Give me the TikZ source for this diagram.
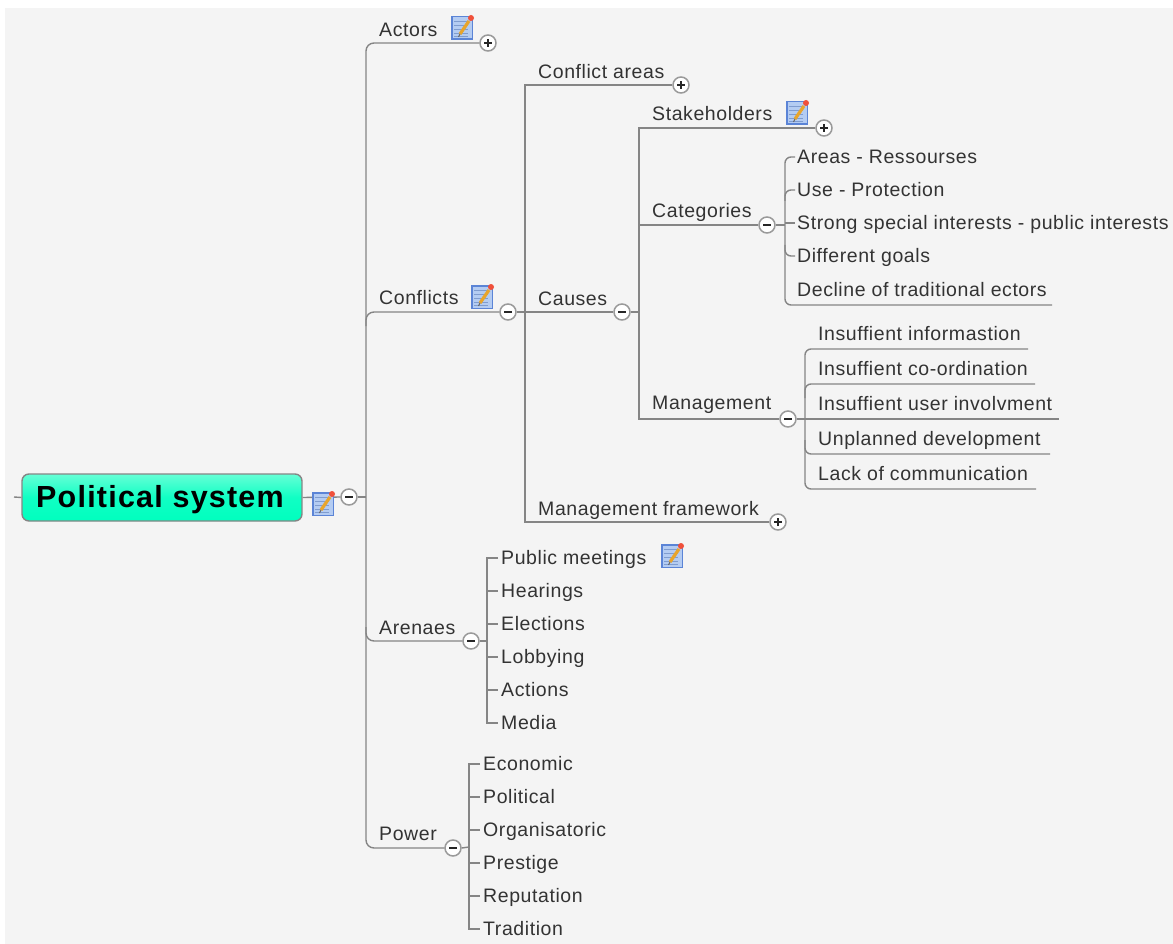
\documentclass[tikz,border=0pt]{standalone}
\usepackage{fontspec}
\setmainfont{Liberation Sans}
\newfontfamily\labfont[LetterSpace=2.95]{Liberation Sans}
\newfontfamily\rootfont[LetterSpace=4.0]{Liberation Sans Bold}
\definecolor{bgc}{HTML}{F4F4F4}
\definecolor{linec}{HTML}{858585}
\definecolor{ringc}{HTML}{9A9A9A}
\definecolor{txtc}{HTML}{333333}
\definecolor{rootT}{HTML}{66FFD6}
\definecolor{rootM}{HTML}{10FFC4}
\definecolor{rootB}{HTML}{00FFBE}
\definecolor{B0}{HTML}{5B84D6}
\definecolor{B1}{HTML}{B4CCF2}
\definecolor{B2}{HTML}{7F9CCF}
\definecolor{penc}{HTML}{E8A52C}
\definecolor{dotc}{HTML}{F0503A}
\tikzset{
  link/.style={draw=linec,line width=1.4pt},
  curved/.style={link,rounded corners=8pt},
  tight/.style={link,rounded corners=6pt},
  lab/.style={anchor=west,inner sep=0pt,text=txtc,font=\labfont\fontsize{19.5}{21}\selectfont,text height=15pt,text depth=2pt},
  toggle/.style={circle,draw=ringc,line width=1.5pt,fill=white,minimum size=16pt,inner sep=0pt},
  minusmark/.style={toggle,path picture={\draw[black!85,line width=1.1pt] (-4pt,0)--(4pt,0);}},
  plusmark/.style={toggle,path picture={\draw[black!85,line width=1.1pt] (-4pt,0)--(4pt,0) (0,-4pt)--(0,4pt);}},
  noteicon/.pic={
    \fill[B0] (0,0) rectangle (22,24);
    \fill[B1] (1.5,1.5) rectangle (20.5,22.5);
    \foreach \yy in {5,9,13,17,20}{\draw[B2,line width=0.8pt] (3,\yy)--(17,\yy);}
    \draw[penc,line width=3.2pt] (9,18)--(18,5);
    \draw[black!60,line width=1pt] (7.5,21)--(9,18);
    \fill[dotc] (20,2) circle (3pt);
  }
}
\begin{document}
\begin{tikzpicture}[x=1pt,y=-1pt]
\useasboundingbox (0,0) rectangle (1173,944);
\fill[white] (0,0) rectangle (1173,944);
\fill[bgc] (5,8) rectangle (1173,944);

% root
\coordinate (stubL) at (14,497);
\node[draw=linec,line width=1.4pt,rounded corners=7pt,top color=rootT,bottom color=rootB,middle color=rootM,minimum width=280pt,minimum height=47pt,inner sep=0pt,font=\rootfont\fontsize{30.5}{34}\selectfont,text=black,text height=26pt,text depth=6pt] (root) at (162,497.5) {Political system\kern4pt};
\node[minusmark] (tRoot) at (349,497) {};
\draw[link] (stubL) -- (root.west);
\draw[link] (root.east) -- (tRoot.west);

% level 1
\coordinate (sA) at (366,497);
\coordinate (sTop) at (366,43);
\coordinate (sBot) at (366,848);
\coordinate (sC) at (366,312);
\coordinate (sCb) at (366,326);
\coordinate (sR) at (366,641);
\coordinate (sRa) at (366,627);
\node[plusmark] (tActors) at (488,43) {};
\node[minusmark] (tConf) at (508,312) {};
\node[minusmark] (tAren) at (471,641) {};
\node[minusmark] (tPow) at (453,848) {};
\node[lab] (actors) at (379,30) {Actors};
\node[lab] (conflicts) at (379,297.5) {Conflicts};
\node[lab] (arenaes) at (379,627.5) {Arenaes};
\node[lab] (power) at (379,834) {Power};
\draw[link] (tRoot.east) -- (sA);
\draw[curved] (tActors.west) -- (sTop) -- (sBot) -- (tPow.west);
\draw[curved] (sCb) -- (sC) -- (tConf.west);
\draw[curved] (sRa) -- (sR) -- (tAren.west);

% conflicts children
\coordinate (c1) at (525,85);
\coordinate (c2) at (525,522);
\coordinate (c0) at (525,312);
\node[plusmark] (tCA) at (681,85) {};
\node[minusmark] (tCau) at (622,312) {};
\node[plusmark] (tMF) at (778,522) {};
\node[lab] (careas) at (538,72) {Conflict areas};
\node[lab] (causes) at (538,299) {Causes};
\node[lab] (mframe) at (538,508.5) {Management framework};
\draw[link] (tConf.east) -- (c0);
\draw[link] (tCA.west) -- (c1) -- (c2) -- (tMF.west);
\draw[link] (c0) -- (tCau.west);

% causes children
\coordinate (d1) at (639,128);
\coordinate (d2) at (639,419);
\coordinate (d0) at (639,312);
\coordinate (d3) at (639,225);
\node[plusmark] (tSt) at (824,128) {};
\node[minusmark] (tCat) at (767,225) {};
\node[minusmark] (tMan) at (788,419) {};
\node[lab] (stake) at (652,114) {Stakeholders};
\node[lab] (categ) at (652,211) {Categories};
\node[lab] (manag) at (652,402.5) {Management};
\draw[link] (tCau.east) -- (d0);
\draw[link] (tSt.west) -- (d1) -- (d2) -- (tMan.west);
\draw[link] (d3) -- (tCat.west);

% categories children
\node[lab] (e1) at (797,157) {Areas - Ressourses};
\node[lab] (e2) at (797,190) {Use - Protection};
\node[lab] (e3) at (797,223) {Strong special interests - public interests};
\node[lab] (e4) at (797,256) {Different goals};
\node[lab] (e5) at (797,290) {Decline of traditional ectors};
\coordinate (eT) at (785,157);
\coordinate (eB) at (785,305);
\coordinate (eE) at (1052,305);
\coordinate (eM) at (785,225);
\coordinate (e2c) at (785,190);
\coordinate (e2b) at (785,201);
\coordinate (e4c) at (785,256);
\coordinate (e4a) at (785,245);
\draw[link] (tCat.east) -- (eM);
\draw[tight,shorten <=2pt] (e1.west) -- (eT) -- (eB) -- (eE);
\draw[tight,shorten >=2pt] (e2b) -- (e2c) -- (e2.west);
\draw[link,shorten >=2pt] (785,223) -- (e3.west);
\draw[tight,shorten >=2pt] (e4a) -- (e4c) -- (e4.west);

% management children
\node[lab] (f1) at (818,334) {Insuffient informastion};
\node[lab] (f2) at (818,369) {Insuffient co-ordination};
\node[lab] (f3) at (818,404) {Insuffient user involvment};
\node[lab] (f4) at (818,439) {Unplanned development};
\node[lab] (f5) at (818,474) {Lack of communication};
\coordinate (fS1) at (805,349);
\coordinate (fS2) at (805,384);
\coordinate (fS3) at (805,419);
\coordinate (fS4) at (805,454);
\coordinate (fS5) at (805,489);
\coordinate (fE1) at (1028,349);
\coordinate (fE2) at (1035,384);
\coordinate (fE3) at (1059,419);
\coordinate (fE4) at (1050,454);
\coordinate (fE5) at (1036,489);
\draw[link] (tMan.east) -- (fS3) -- (fE3);
\draw[tight] (fE1) -- (fS1) -- (fS5) -- (fE5);
\draw[tight] (805,398) -- (fS2) -- (fE2);
\draw[tight] (805,440) -- (fS4) -- (fE4);

% arenaes children
\node[lab] (g1) at (501,558) {Public meetings};
\node[lab] (g2) at (501,591) {Hearings};
\node[lab] (g3) at (501,624) {Elections};
\node[lab] (g4) at (501,657) {Lobbying};
\node[lab] (g5) at (501,690) {Actions};
\node[lab] (g6) at (501,723) {Media};
\coordinate (gT) at (487,558);
\coordinate (gB) at (487,723);
\coordinate (gM) at (487,641);
\draw[link] (tAren.east) -- (gM);
\draw[link,shorten <=3pt,shorten >=3pt] (g1.west) -- (gT) -- (gB) -- (g6.west);
\foreach \n/\yy in {g2/591,g3/624,g4/657,g5/690}{\draw[link,shorten >=3pt] (487,\yy) -- (\n.west);}

% power children
\node[lab] (h1) at (483,764) {Economic};
\node[lab] (h2) at (483,797) {Political};
\node[lab] (h3) at (483,830) {Organisatoric};
\node[lab] (h4) at (483,863) {Prestige};
\node[lab] (h5) at (483,896) {Reputation};
\node[lab] (h6) at (483,929) {Tradition};
\coordinate (hT) at (469,764);
\coordinate (hB) at (469,929);
\coordinate (hM) at (469,847);
\draw[link] (tPow.east) -- (hM);
\draw[link,shorten <=3pt,shorten >=3pt] (h1.west) -- (hT) -- (hB) -- (h6.west);
\foreach \n/\yy in {h2/797,h3/830,h4/863,h5/896}{\draw[link,shorten >=3pt] (469,\yy) -- (\n.west);}

% note icons
\pic at (312,492) {noteicon};
\pic at (451,16) {noteicon};
\pic at (471,285) {noteicon};
\pic at (786,101) {noteicon};
\pic at (661,544) {noteicon};
\end{tikzpicture}
\end{document}
